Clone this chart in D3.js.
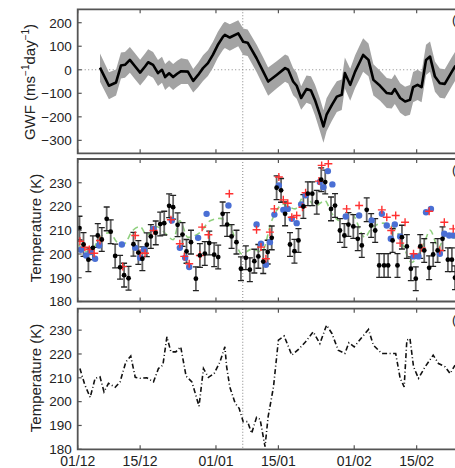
<!DOCTYPE html>
<html><head><meta charset="utf-8">
<script src="https://cdn.jsdelivr.net/npm/d3@7"></script>
<style>body{margin:0;background:#fff;overflow:hidden} svg{display:block} text{font-family:"Liberation Sans",Arial,sans-serif}</style>
</head><body><svg id="c" width="455" height="468"></svg>
<script>
// ---- data (x = days since 01 December) ----
const tickDays = [0, 14, 31, 45, 62, 76];
const tickLabels = ["01/12", "15/12", "01/01", "15/01", "01/02", "15/02"];
const markerDay = 37;

const gwfTicks = [200, 100, 0, -100, -200, -300];
const tempTicks = [180, 190, 200, 210, 220, 230];

const gwfDay = [5.0,7.0,8.6,9.7,10.6,11.7,12.8,14.0,15.1,15.8,16.9,18.0,18.9,19.6,20.5,21.4,22.3,23.2,24.7,25.9,27.0,28.1,29.2,30.3,31.4,32.6,33.0,34.1,36.0,37.1,38.1,40.1,41.6,42.7,44.6,46.5,47.2,48.3,49.1,50.1,51.3,52.3,53.2,54.3,55.1,55.8,57.0,58.1,59.2,59.9,61.1,62.2,63.3,64.0,65.2,66.3,67.8,69.3,70.4,71.1,72.3,73.4,74.5,75.2,76.2,77.1,78.1,79.0,80.1,81.2,82.3,83.9,84.6,86.0];
const gwfVal = [9,-68,-54,18,21,42,16,-12,14,32,21,-14,0,-31,-15,-31,-17,-6,-8,-47,-22,7,28,63,105,141,148,137,155,119,115,49,-8,-50,-22,7,0,-50,-68,-120,-82,-88,-128,-191,-241,-191,-149,-114,-106,-14,-64,-8,35,63,42,-43,-68,-99,-102,-82,-120,-135,-128,-74,-64,-74,42,56,-29,-57,-60,-8,14,30];
const gwfErr = [60,57,55,55,55,55,55,55,55,55,55,55,55,55,55,55,55,55,52,50,52,55,55,55,55,56,56,56,55,56,56,58,60,60,58,58,58,58,55,50,58,60,65,69,69,70,68,65,65,66,68,70,71,71,70,66,64,64,63,63,63,63,63,64,64,64,64,64,64,62,62,62,62,62];

const obsDay = [0.4,1.3,2.4,3.4,4.5,5.4,6.5,7.4,8.4,9.5,10.4,11.4,12.5,13.6,14.5,15.5,16.4,17.5,18.5,19.4,20.5,21.4,22.4,23.5,24.4,25.4,26.5,27.4,28.5,29.5,30.6,31.5,32.5,33.5,34.5,35.6,36.6,37.7,38.6,39.6,40.5,41.6,42.6,43.5,44.6,45.6,46.5,47.6,48.6,49.5,50.6,51.6,52.6,53.6,54.6,55.5,56.8,57.7,58.8,59.8,60.7,61.8,62.8,63.7,64.8,65.8,66.7,67.6,68.7,69.6,70.6,71.7,72.7,73.8,74.7,75.8,76.8,77.7,78.8,79.7,80.7,81.8,83.0,83.9,84.6];
const obsT = [210.9,204.0,197.6,202.6,207.8,206.1,214.8,209.4,199.2,194.4,191.1,189.8,204.1,200.6,198.0,203.9,207.4,208.9,212.6,213.0,220.3,219.7,212.3,208.2,201.1,205.0,189.6,199.4,200.2,204.6,199.7,198.7,216.9,212.4,207.4,205.0,193.8,198.4,193.4,197.0,199.0,196.8,200.8,206.8,227.9,226.8,216.9,204.0,201.2,205.7,220.0,225.4,225.4,221.8,231.3,230.3,219.0,220.4,209.9,207.8,212.4,211.6,206.4,203.6,218.6,212.0,209.9,195.2,195.2,195.2,205.7,195.2,207.1,203.2,193.8,189.6,203.2,201.5,194.2,199.8,201.5,206.4,197.6,197.6,190.0];
const obsErr = [5,5,5,5,5,5,5,5,5,5,5,5,5,5,5,5,5,5,5,5,5,5,5,5,5,5,5,5,5,5,5,5,5,5,5,5,5,5,5,5,5,5,5,5,5,5,5,5,5,5,5,5,5,5,5,5,5,5,5,5,5,5,5,5,5,5,5,5,5,5,5,5,5,5,5,5,5,5,5,5,5,5,5,5,5];

const blueDay = [0.7,1.9,2.9,3.9,4.8,9.9,12.9,14.0,14.9,17.0,21.1,22.9,24.1,25.0,27.0,28.9,33.8,40.1,41.1,42.2,43.1,44.1,45.1,46.1,47.1,48.0,49.1,50.1,51.1,54.3,55.1,56.1,57.1,60.1,63.1,65.9,68.2,69.3,70.2,71.1,72.3,75.3,76.4,78.1,79.2,81.2,82.2,83.3,84.2];
const blueT = [201.8,199.4,200.8,198.0,203.6,204.0,202.6,198.4,201.9,210.6,214.1,202.6,198.4,194.5,206.8,216.9,220.4,212.4,204.3,195.5,205.0,216.6,228.9,218.6,219.0,214.8,213.0,220.9,224.7,230.3,228.1,234.9,229.3,215.8,216.2,214.1,216.9,212.0,206.4,212.4,207.4,199.0,199.0,217.6,219.0,200.1,208.5,207.8,207.8];

const redDay = [0.5,1.6,2.6,3.7,5.0,10.1,12.9,14.0,15.1,17.0,20.9,22.9,23.9,25.0,27.4,27.9,29.3,34.0,40.1,41.1,42.2,43.1,44.1,45.1,46.1,47.1,48.0,49.1,50.4,51.1,54.1,54.7,56.2,60.3,63.1,68.2,69.3,70.3,71.3,72.3,73.4,75.3,77.1,78.8,81.2,82.2,84.2];
const redT = [205.4,202.9,201.9,200.3,205.7,194.7,207.8,200.3,200.3,209.9,214.4,204.3,199.0,195.9,199.4,211.3,208.1,225.4,210.2,202.9,198.0,209.2,219.0,232.4,222.8,221.4,215.5,216.2,219.7,225.8,230.7,237.3,238.0,219.0,220.4,218.6,215.5,209.9,216.2,204.6,213.4,200.1,202.6,218.0,201.5,213.4,210.6];

const greenDay = [0.3,1.4,2.8,5.0,7.2,8.8,10.2,12.4,14.0,15.5,17.8,20.0,21.4,22.9,24.7,27.4,29.7,31.9,34.1,36.8,39.0,41.3,43.5,46.1,48.7,51.0,53.2,55.4,57.0,58.8,61.4,64.4,65.9,68.5,71.1,72.9,74.9,76.0,77.9,79.0,80.9,82.4,84.6];
const greenT = [204,201,201,207,209,205,204,210,211.5,208,211.5,208,206,214,207,209,214,215,212,200,202,201,214,221,219,225,220,222.5,217,214,217,207,211,213,210.7,204,196.4,198.5,205.7,210,202.7,207.8,206.5];

const tDay = [0.5,1.6,2.8,3.9,5.0,5.9,6.9,8.4,9.5,10.8,11.9,12.9,14.0,15.5,17.0,18.1,19.1,20.0,20.9,22.0,23.1,24.3,25.6,27.2,28.2,29.3,30.6,31.9,33.0,33.4,34.1,35.3,36.2,37.1,38.1,39.0,40.1,40.9,42.0,42.7,43.9,45.0,46.3,48.0,49.5,51.1,52.8,54.3,55.8,57.0,58.4,59.9,60.8,62.0,63.5,65.2,66.3,68.2,70.0,71.3,72.3,73.2,73.8,74.5,75.3,76.4,77.9,79.7,80.9,82.4,83.5,84.6];
const tVal = [213.9,207.0,201.8,209.8,210.4,204.1,207.7,206.0,208.3,216.7,219.1,210.2,209.8,210.0,208.3,213.9,215.3,227.2,220.9,220.9,223.0,210.7,208.3,198.1,213.9,210.2,211.8,216.7,223.0,214.6,206.2,199.3,197.2,191.6,191.6,186.7,193.4,192.6,181.1,193.7,206.2,225.8,227.5,219.5,221.9,225.1,229.3,224.4,232.1,228.6,221.6,220.2,224.7,223.0,226.5,230.3,223.7,220.2,220.2,220.2,209.8,206.2,225.8,226.5,214.6,209.8,214.6,219.5,216.0,214.6,211.8,215.3];

// ---- layout ----
const svg = d3.select("#c");
const x = d3.scaleLinear().domain([0, 90]).range([77.7, 77.7 + 4.46 * 90]);
const X0 = x.range()[0], X1 = x.range()[1];
const FS = 13.5;
const frameCol = "#555";
const txtCol = "#222";

const panels = [
  { y: d3.scaleLinear().domain([-355, 257]).range([153.3, 9.3]), ticks: gwfTicks, label: "(a)" },
  { y: d3.scaleLinear().domain([180, 240]).range([301.5, 159]), ticks: tempTicks, label: "(b)" },
  { y: d3.scaleLinear().domain([180, 239]).range([449.3, 308.7]), ticks: tempTicks, label: "(c)" }
];

panels.forEach((p, i) => {
  const [yb, yt] = p.y.range();
  const g = svg.append("g");
  g.append("clipPath").attr("id", "clip" + i).append("rect")
    .attr("x", X0).attr("y", yt).attr("width", X1 - X0).attr("height", yb - yt);
  p.g = g;
  p.plot = g.append("g").attr("clip-path", `url(#clip${i})`);
  p.plot.append("line").attr("x1", x(markerDay)).attr("x2", x(markerDay))
    .attr("y1", yt).attr("y2", yb).attr("stroke", "#999").attr("stroke-width", 1.2)
    .attr("stroke-dasharray", "1,2");
});

// Panel a
{
  const p = panels[0], y = p.y;
  p.plot.append("line").attr("x1", X0).attr("x2", X1).attr("y1", y(0)).attr("y2", y(0))
    .attr("stroke", "#888").attr("stroke-width", 1.2).attr("stroke-dasharray", "1,2.5");
  const gw = gwfDay.map((d, i) => ({ d, v: gwfVal[i], e: gwfErr[i] }));
  p.plot.append("path").datum(gw)
    .attr("d", d3.area().x(o => x(o.d)).y0(o => y(o.v - o.e)).y1(o => y(o.v + o.e)))
    .attr("fill", "#a3a3a3");
  p.plot.append("path").datum(gw)
    .attr("d", d3.line().x(o => x(o.d)).y(o => y(o.v)))
    .attr("fill", "none").attr("stroke", "#000").attr("stroke-width", 2.6).attr("stroke-linejoin", "round");
}

// Panel b
{
  const p = panels[1], y = p.y;
  const gr = greenDay.map((d, i) => [d, greenT[i]]);
  p.plot.append("path").datum(gr)
    .attr("d", d3.line().x(o => x(o[0])).y(o => y(o[1])).curve(d3.curveMonotoneX))
    .attr("fill", "none").attr("stroke", "#8fd07e").attr("stroke-width", 1.6).attr("stroke-dasharray", "6,4");
  const obs = obsDay.map((d, i) => ({ d, t: obsT[i], e: obsErr[i] }));
  const eb = p.plot.append("g");
  eb.selectAll("line.bar").data(obs).join("line").attr("class", "bar")
    .attr("x1", o => x(o.d)).attr("x2", o => x(o.d))
    .attr("y1", o => y(o.t - o.e)).attr("y2", o => y(o.t + o.e))
    .attr("stroke", "#666").attr("stroke-width", 1.8);
  ["lo", "hi"].forEach(k => {
    eb.selectAll("line.cap" + k).data(obs).join("line").attr("class", "cap" + k)
      .attr("x1", o => x(o.d) - 3).attr("x2", o => x(o.d) + 3)
      .attr("y1", o => y(k === "lo" ? o.t - o.e : o.t + o.e))
      .attr("y2", o => y(k === "lo" ? o.t - o.e : o.t + o.e))
      .attr("stroke", "#222").attr("stroke-width", 1.3);
  });
  p.plot.selectAll("circle.blue").data(blueDay.map((d, i) => [d, blueT[i]])).join("circle")
    .attr("class", "blue").attr("cx", o => x(o[0])).attr("cy", o => y(o[1])).attr("r", 3.2)
    .attr("fill", "#4a6fd4");
  const rp = p.plot.selectAll("g.red").data(redDay.map((d, i) => [d, redT[i]])).join("g")
    .attr("class", "red").attr("transform", o => `translate(${x(o[0])},${y(o[1])})`);
  rp.append("path").attr("d", "M-4,0H4M0,-4V4").attr("stroke", "#ff3030").attr("stroke-width", 1.4);
  p.plot.selectAll("circle.obs").data(obs).join("circle").attr("class", "obs")
    .attr("cx", o => x(o.d)).attr("cy", o => y(o.t)).attr("r", 2.4).attr("fill", "#000");
}

// Panel c
{
  const p = panels[2], y = p.y;
  p.plot.append("path").datum(tDay.map((d, i) => [d, tVal[i]]))
    .attr("d", d3.line().x(o => x(o[0])).y(o => y(o[1])))
    .attr("fill", "none").attr("stroke", "#111").attr("stroke-width", 1.6)
    .attr("stroke-dasharray", "5,2.5,1,2.5");
}

// frames, ticks, labels
panels.forEach((p, i) => {
  const [yb, yt] = p.y.range();
  const g = p.g;
  g.append("path").attr("d", `M${X1},${yt}H${X0}V${yb}H${X1}`)
    .attr("fill", "none").attr("stroke", frameCol).attr("stroke-width", 1.8);
  g.selectAll("line.xt").data(tickDays).join("line").attr("class", "xt")
    .attr("x1", d => x(d)).attr("x2", d => x(d)).attr("y1", yb).attr("y2", yb - 4)
    .attr("stroke", frameCol).attr("stroke-width", 1.2);
  g.selectAll("line.xtt").data(tickDays).join("line").attr("class", "xtt")
    .attr("x1", d => x(d)).attr("x2", d => x(d)).attr("y1", yt).attr("y2", yt + 4)
    .attr("stroke", frameCol).attr("stroke-width", 1.2);
  g.selectAll("line.yt").data(p.ticks).join("line").attr("class", "yt")
    .attr("x1", X0).attr("x2", X0 + 4).attr("y1", d => p.y(d)).attr("y2", d => p.y(d))
    .attr("stroke", frameCol).attr("stroke-width", 1.2);
  g.selectAll("text.yl").data(p.ticks).join("text").attr("class", "yl")
    .attr("x", X0 - 6).attr("y", d => p.y(d)).attr("dy", "0.36em")
    .attr("text-anchor", "end").attr("font-size", FS).attr("fill", txtCol)
    .text(d => d < 0 ? "\u2212" + Math.abs(d) : d);
  g.append("text").attr("x", 452).attr("y", yt + 15).attr("font-size", 13).attr("fill", txtCol).text(p.label);
});

// bottom x labels
svg.selectAll("text.xl").data(tickDays).join("text").attr("class", "xl")
  .attr("x", d => x(d)).attr("y", 465.5).attr("text-anchor", "middle")
  .attr("font-size", 14).attr("fill", txtCol).text((d, i) => tickLabels[i]);

// axis titles
const gt = svg.append("text").attr("transform", "translate(35,82) rotate(-90)")
  .attr("text-anchor", "middle").attr("font-size", 15).attr("fill", txtCol);
gt.append("tspan").text("GWF (ms");
gt.append("tspan").attr("font-size", 10).attr("dy", -6).text("\u22121");
gt.append("tspan").attr("dy", 6).text("day");
gt.append("tspan").attr("font-size", 10).attr("dy", -6).text("\u22121");
gt.append("tspan").attr("dy", 6).text(")");

[[40.5, 228], [40.5, 378]].forEach(([tx, ty]) => {
  svg.append("text").attr("transform", `translate(${tx},${ty}) rotate(-90)`)
    .attr("text-anchor", "middle").attr("font-size", 15).attr("fill", txtCol).text("Temperature (K)");
});
</script></body></html>
